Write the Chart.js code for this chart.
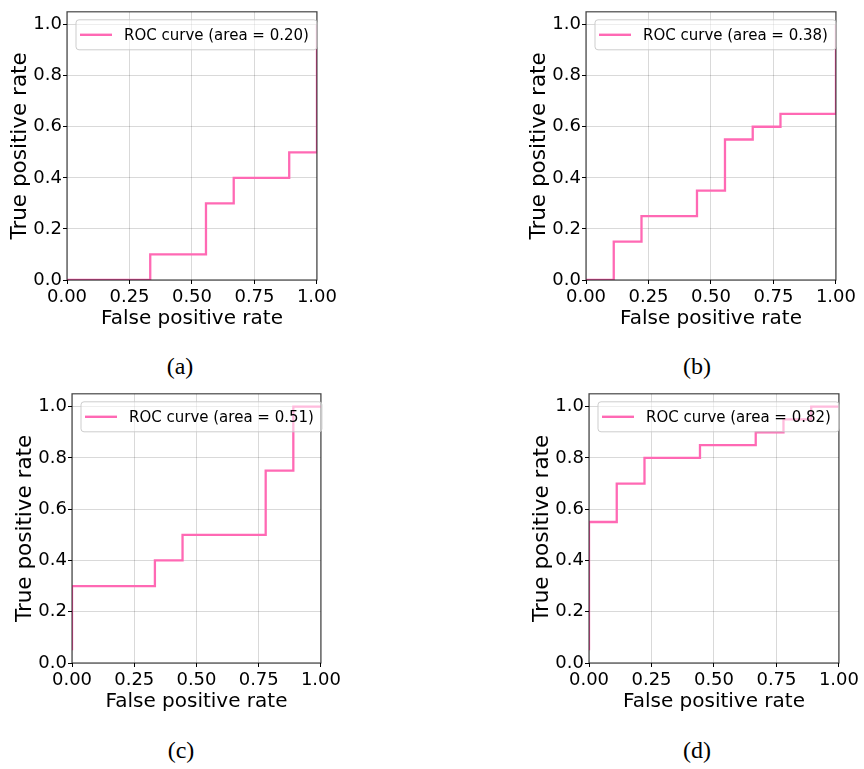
<!DOCTYPE html>
<html><head><meta charset="utf-8">
<script src="https://cdn.jsdelivr.net/npm/chart.js@4.4.1/dist/chart.umd.min.js"></script>
<style>
html,body{margin:0;padding:0;background:#fff;}
body{width:864px;height:769px;position:relative;overflow:hidden;}
canvas{position:absolute;}
.cap{position:absolute;font-family:"Liberation Serif","Times New Roman",serif;font-size:24px;color:#000;transform:translate(-50%,-50%);white-space:nowrap;line-height:1;}
</style></head><body>
<canvas id="ca"></canvas><canvas id="cb"></canvas><canvas id="cc"></canvas><canvas id="cd"></canvas>
<div class="cap" style="left:180px;top:366px">(a)</div>
<div class="cap" style="left:697px;top:366px">(b)</div>
<div class="cap" style="left:181px;top:750px">(c)</div>
<div class="cap" style="left:697px;top:750px">(d)</div>
<script>
const xTicks = [0, 0.25, 0.5, 0.75, 1.0];
const yTicks = [0, 0.2, 0.4, 0.6, 0.8, 1.0];
const xTitle = 'False positive rate';
const yTitle = 'True positive rate';

const fprA = [0, 0.333, 0.333, 0.556, 0.556, 0.667, 0.667, 0.889, 0.889, 1.0, 1.0];
const tprA = [0, 0, 0.10, 0.10, 0.30, 0.30, 0.40, 0.40, 0.50, 0.50, 1.0];
const aucA = '0.20';

const fprB = [0, 0.111, 0.111, 0.222, 0.222, 0.444, 0.444, 0.556, 0.556, 0.667, 0.667, 0.778, 0.778, 1.0, 1.0];
const tprB = [0, 0, 0.15, 0.15, 0.25, 0.25, 0.35, 0.35, 0.55, 0.55, 0.60, 0.60, 0.65, 0.65, 1.0];
const aucB = '0.38';

const fprC = [0, 0, 0.333, 0.333, 0.444, 0.444, 0.778, 0.778, 0.889, 0.889, 1.0];
const tprC = [0.05, 0.30, 0.30, 0.40, 0.40, 0.50, 0.50, 0.75, 0.75, 1.0, 1.0];
const aucC = '0.51';

const fprD = [0, 0, 0.111, 0.111, 0.222, 0.222, 0.444, 0.444, 0.667, 0.667, 0.778, 0.778, 0.889, 0.889, 1.0];
const tprD = [0.05, 0.55, 0.55, 0.70, 0.70, 0.80, 0.80, 0.85, 0.85, 0.90, 0.90, 0.95, 0.95, 1.0, 1.0];
const aucD = '0.82';

const PINK = '#ff69b4';
const FONT = '"DejaVu Sans", sans-serif';

const frameAndLegend = {
  id: 'frameAndLegend',
  afterDatasetsDraw(chart) {
    const ctx = chart.ctx, a = chart.chartArea;
    ctx.save();
    // spines
    ctx.strokeStyle = 'rgba(0,0,0,0.72)';
    ctx.lineWidth = 1.2;
    ctx.strokeRect(a.left, a.top, a.right - a.left, a.bottom - a.top);
    // legend
    const ds = chart.data.datasets[0];
    ctx.font = '15px ' + FONT;
    const tw = ctx.measureText(ds.label).width;
    const x = a.left + 9, y = a.top + 8, h = 30;
    const w = 4 + 32 + 12 + tw + 8;
    ctx.beginPath();
    if (ctx.roundRect) ctx.roundRect(x, y, w, h, 3); else ctx.rect(x, y, w, h);
    ctx.fillStyle = 'rgba(255,255,255,0.55)';
    ctx.fill();
    ctx.strokeStyle = 'rgba(200,200,200,0.9)';
    ctx.lineWidth = 1;
    ctx.stroke();
    ctx.strokeStyle = PINK;
    ctx.lineWidth = 2.4;
    ctx.beginPath();
    ctx.moveTo(x + 4, y + h / 2);
    ctx.lineTo(x + 36, y + h / 2);
    ctx.stroke();
    ctx.fillStyle = '#000';
    ctx.textBaseline = 'middle';
    ctx.textAlign = 'left';
    ctx.fillText(ds.label, x + 48, y + h / 2 + 1);
    ctx.restore();
  }
};

function makePanel(id, L, T, R, B, fpr, tpr, auc) {
  const yW = 67, padT = 5, padR = 20, padB = 9, xH = 51;
  const cv = document.getElementById(id);
  const W = (R - L) + yW + padR, H = (B - T) + padT + padB + xH;
  cv.width = W; cv.height = H;
  cv.style.left = (L - yW) + 'px';
  cv.style.top = (T - padT) + 'px';
  const pts = fpr.map((v, i) => ({x: v, y: tpr[i]}));
  new Chart(cv, {
    type: 'scatter',
    data: { datasets: [{
      label: 'ROC curve (area = ' + auc + ')',
      data: pts,
      showLine: true,
      borderColor: PINK,
      backgroundColor: PINK,
      borderWidth: 2.3,
      pointRadius: 0,
      pointHoverRadius: 0,
      tension: 0
    }]},
    options: {
      responsive: false,
      animation: false,
      events: [],
      layout: { padding: { top: padT, right: padR, bottom: padB, left: 0 } },
      plugins: { legend: { display: false }, tooltip: { enabled: false } },
      scales: {
        x: {
          type: 'linear', min: 0, max: 1,
          afterBuildTicks: s => { s.ticks = xTicks.map(v => ({value: v})); },
          afterFit: s => { s.height = xH; },
          ticks: { color: '#000', font: { family: FONT, size: 18 }, padding: 3, maxRotation: 0,
                   callback: v => Number(v).toFixed(2) },
          grid: { color: 'rgba(0,0,0,0.15)', lineWidth: 1, tickLength: 4, tickColor: '#000', tickWidth: 1 },
          border: { display: false },
          title: { display: true, text: xTitle, color: '#000', font: { family: FONT, size: 20 }, padding: { top: 0, bottom: 0 } }
        },
        y: {
          type: 'linear', min: 0, max: 1.05,
          afterBuildTicks: s => { s.ticks = yTicks.map(v => ({value: v})); },
          afterFit: s => { s.width = yW; },
          ticks: { color: '#000', font: { family: FONT, size: 18 }, padding: 1,
                   callback: v => Number(v).toFixed(1) },
          grid: { color: 'rgba(0,0,0,0.15)', lineWidth: 1, tickLength: 4, tickColor: '#000', tickWidth: 1 },
          border: { display: false },
          title: { display: true, text: yTitle, color: '#000', font: { family: FONT, size: 21.5 }, padding: { top: 8, bottom: 0 } }
        }
      }
    },
    plugins: [frameAndLegend]
  });
}

makePanel('ca', 67, 5, 320, 280, fprA, tprA, aucA);
makePanel('cb', 586, 5, 839, 280, fprB, tprB, aucB);
makePanel('cc', 72, 387, 324, 663, fprC, tprC, aucC);
makePanel('cd', 589, 387, 842, 663, fprD, tprD, aucD);
</script>
</body></html>
